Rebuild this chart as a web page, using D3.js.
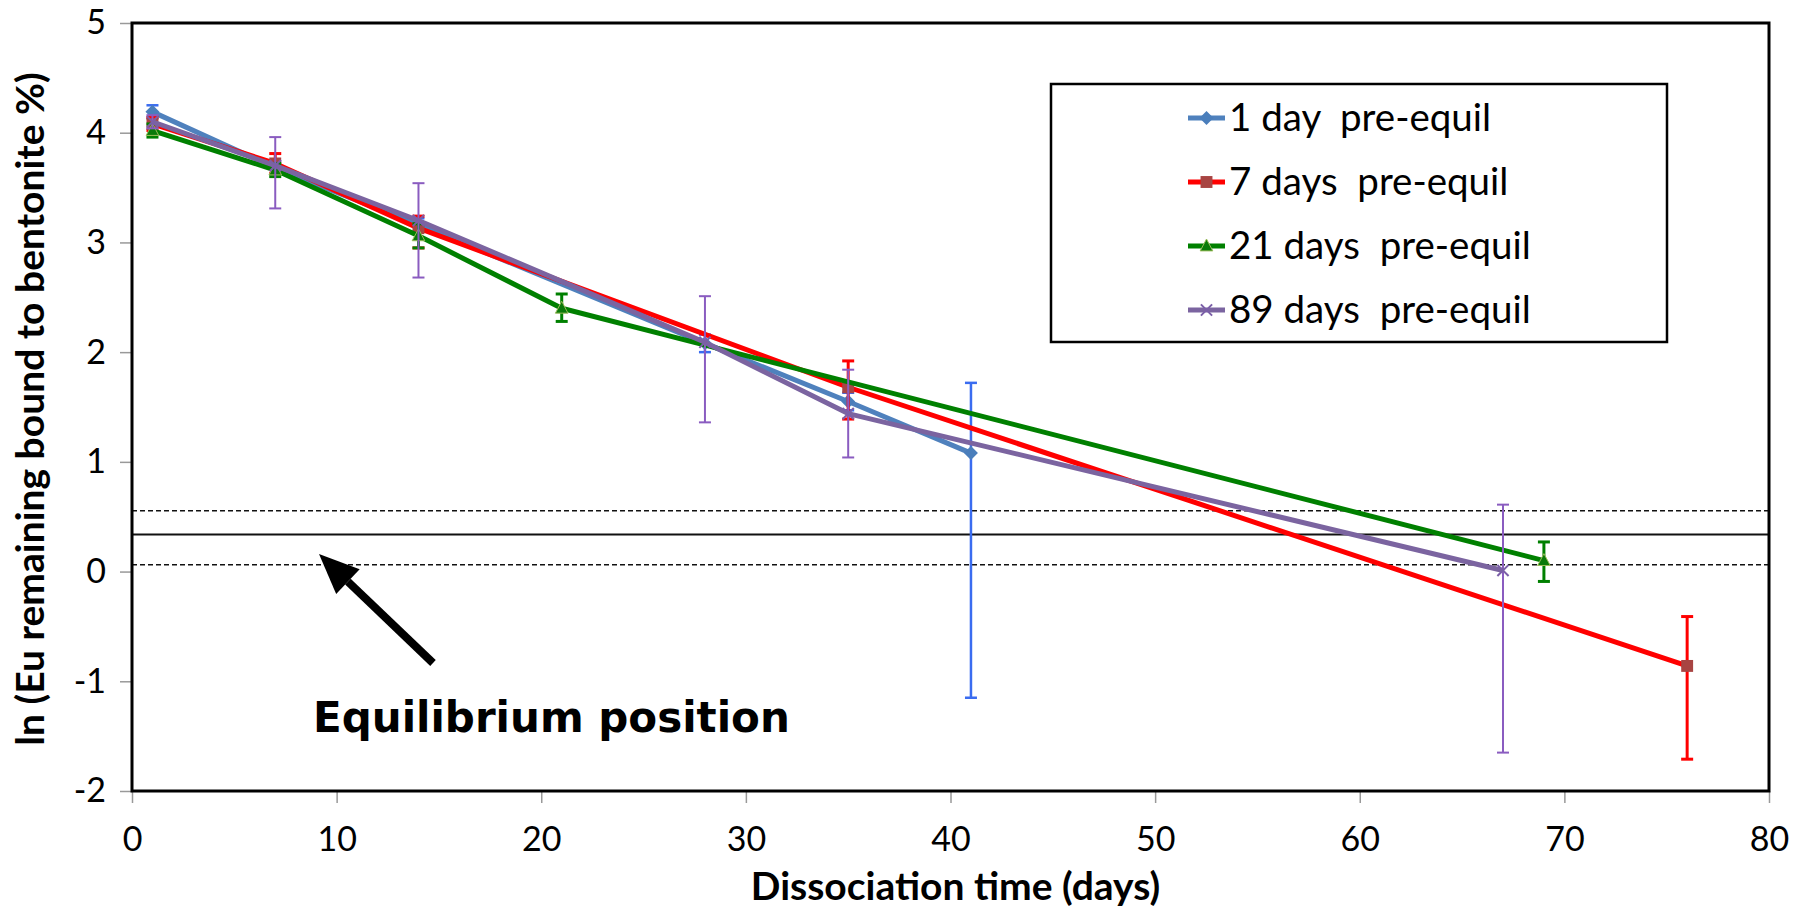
<!DOCTYPE html>
<html><head><meta charset="utf-8">
<script src="https://cdn.jsdelivr.net/npm/d3@7"></script>
<style>body{margin:0;background:#fff}svg{display:block}</style>
</head><body>
<svg id="chart" width="1807" height="915"></svg>
<script>
// ---- data ----
const seriesNames = ["1 day  pre-equil", "7 days  pre-equil", "21 days  pre-equil", "89 days  pre-equil"];
const days1  = [1, 7, 14, 28, 35, 41];
const ln1    = [4.19, 3.68, 3.16, 2.08, 1.55, 1.08];
const lo1    = [4.13, 3.62, 3.10, 2.00, 1.47, -1.15];
const hi1    = [4.25, 3.74, 3.22, 2.16, 1.63, 1.72];
const days7  = [1, 7, 14, 35, 76];
const ln7    = [4.08, 3.72, 3.13, 1.68, -0.86];
const lo7    = [4.02, 3.63, 2.95, 1.39, -1.71];
const hi7    = [4.14, 3.81, 3.24, 1.92, -0.41];
const days21 = [1, 7, 14, 21, 69];
const ln21   = [4.02, 3.66, 3.06, 2.40, 0.10];
const lo21   = [3.96, 3.60, 2.95, 2.28, -0.09];
const hi21   = [4.08, 3.72, 3.17, 2.53, 0.27];
const days89 = [1, 7, 14, 28, 35, 67];
const ln89   = [4.10, 3.70, 3.20, 2.09, 1.44, 0.01];
const lo89   = [4.04, 3.31, 2.68, 1.36, 1.04, -1.65];
const hi89   = [4.16, 3.96, 3.54, 2.51, 1.84, 0.61];
const xTicks = [0, 10, 20, 30, 40, 50, 60, 70, 80];
const yTicks = [-2, -1, 0, 1, 2, 3, 4, 5];
const equilMean = 0.339, equilUpper = 0.554, equilLower = 0.062;
const xTitle = "Dissociation time (days)";
const yTitle = "ln (Eu remaining bound to bentonite %)";
const annotation = "Equilibrium position";

// ---- layout ----
const L = 132, T = 23, R = 1769, B = 791;
const svg = d3.select("#chart");
const x = d3.scaleLinear().domain([0, 80]).range([L, R]);
const y = d3.scaleLinear().domain([-2, 5]).range([B, T]);
const FONT = "Lato, 'Liberation Sans', sans-serif";

const series = [
  {name: seriesNames[0], d: days1, v: ln1, lo: lo1, hi: hi1, line: "#4F81BD", mk: "#4A7EBB", err: "#3A6CF0", ew: 2.5, marker: "diamond"},
  {name: seriesNames[1], d: days7, v: ln7, lo: lo7, hi: hi7, line: "#FF0000", mk: "#A84442", err: "#FF0000", ew: 3, marker: "square"},
  {name: seriesNames[2], d: days21, v: ln21, lo: lo21, hi: hi21, line: "#008000", mk: "#0A7A0A", err: "#008000", ew: 3, marker: "triangle"},
  {name: seriesNames[3], d: days89, v: ln89, lo: lo89, hi: hi89, line: "#7B64A0", mk: "#7B5FA8", err: "#8A5CC0", ew: 2, marker: "x"}
];

// axes ticks
const fmt = d => String(d);
const yAxis = d3.axisLeft(y).tickValues(yTicks).tickSize(12).tickPadding(14).tickFormat(fmt);
const xAxis = d3.axisBottom(x).tickValues(xTicks).tickSize(12).tickPadding(24).tickFormat(fmt);
const gy = svg.append("g").attr("transform", `translate(${L},0)`).call(yAxis);
const gx = svg.append("g").attr("transform", `translate(0,${B})`).call(xAxis);
[gx, gy].forEach(g => {
  g.select(".domain").remove();
  g.selectAll(".tick line").attr("stroke", "#999").attr("stroke-width", 1.5);
  g.selectAll(".tick text").attr("font-family", FONT).attr("font-size", 34).attr("fill", "#000");
});

// equilibrium lines
svg.append("line").attr("x1", L).attr("x2", R).attr("y1", y(equilMean)).attr("y2", y(equilMean))
  .attr("stroke", "#111").attr("stroke-width", 2);
[equilUpper, equilLower].forEach(v => {
  svg.append("line").attr("x1", L).attr("x2", R).attr("y1", y(v)).attr("y2", y(v))
    .attr("stroke", "#111").attr("stroke-width", 1.6).attr("stroke-dasharray", "5,3");
});

function drawMarker(g, type, cx, cy, color, s) {
  if (type === "diamond") {
    g.append("path").attr("d", `M${cx},${cy-s}L${cx+s},${cy}L${cx},${cy+s}L${cx-s},${cy}Z`).attr("fill", color);
  } else if (type === "square") {
    g.append("rect").attr("x", cx - s*0.85).attr("y", cy - s*0.85).attr("width", s*1.7).attr("height", s*1.7).attr("fill", color);
  } else if (type === "triangle") {
    g.append("path").attr("d", `M${cx},${cy-s}L${cx+s*0.9},${cy+s*0.7}L${cx-s*0.9},${cy+s*0.7}Z`)
      .attr("fill", color).attr("stroke", "#9BBB59").attr("stroke-width", 1);
  } else {
    const k = s*0.8;
    g.append("path").attr("d", `M${cx-k},${cy-k}L${cx+k},${cy+k}M${cx-k},${cy+k}L${cx+k},${cy-k}`)
      .attr("stroke", color).attr("stroke-width", 2).attr("fill", "none");
  }
}

const lineGen = d3.line().x(p => x(p[0])).y(p => y(p[1]));
series.forEach(s => {
  const g = svg.append("g");
  const pts = s.d.map((d, i) => [d, s.v[i]]);
  // error bars
  s.d.forEach((d, i) => {
    const cx = x(d);
    g.append("line").attr("x1", cx).attr("x2", cx).attr("y1", y(s.lo[i])).attr("y2", y(s.hi[i]))
      .attr("stroke", s.err).attr("stroke-width", s.ew);
    [s.lo[i], s.hi[i]].forEach(v => {
      g.append("line").attr("x1", cx - 6).attr("x2", cx + 6).attr("y1", y(v)).attr("y2", y(v))
        .attr("stroke", s.err).attr("stroke-width", s.ew);
    });
  });
  g.append("path").attr("d", lineGen(pts)).attr("fill", "none").attr("stroke", s.line)
    .attr("stroke-width", 5).attr("stroke-linejoin", "round");
  pts.forEach(p => drawMarker(g, s.marker, x(p[0]), y(p[1]), s.mk, 7));
});

// plot frame
svg.append("rect").attr("x", L).attr("y", T).attr("width", R - L).attr("height", B - T)
  .attr("fill", "none").attr("stroke", "#000").attr("stroke-width", 3);

// legend
const lg = svg.append("g");
lg.append("rect").attr("x", 1051).attr("y", 84).attr("width", 616).attr("height", 258)
  .attr("fill", "#fff").attr("stroke", "#000").attr("stroke-width", 2.5);
series.forEach((s, i) => {
  const cy = 118 + i * 64;
  lg.append("line").attr("x1", 1188).attr("x2", 1225).attr("y1", cy).attr("y2", cy)
    .attr("stroke", s.line).attr("stroke-width", 5);
  drawMarker(lg, s.marker, 1206.5, cy, s.mk, 7);
  lg.append("text").attr("x", 1229).attr("y", cy + 13).attr("font-family", FONT).attr("font-size", 38.5)
    .attr("fill", "#000").attr("xml:space", "preserve").style("white-space", "pre").text(s.name);
});

// axis titles
svg.append("text").attr("x", (L + R) / 2 + 5).attr("y", 900).attr("text-anchor", "middle")
  .attr("font-family", FONT).attr("font-weight", "bold").attr("font-size", 39).text(xTitle);
svg.append("text").attr("transform", `translate(44,${(T + B) / 2 + 2}) rotate(-90)`).attr("text-anchor", "middle")
  .attr("font-family", FONT).attr("font-weight", "bold").attr("font-size", 39).text(yTitle);

// annotation arrow
const tail = [433, 663], tip = [319, 554];
const ang = Math.atan2(tip[1] - tail[1], tip[0] - tail[0]);
const hl = 40, hw = 17;
const bx = tip[0] - hl * Math.cos(ang), by = tip[1] - hl * Math.sin(ang);
svg.append("line").attr("x1", tail[0]).attr("y1", tail[1]).attr("x2", bx).attr("y2", by)
  .attr("stroke", "#000").attr("stroke-width", 8);
svg.append("path").attr("d", `M${tip[0]},${tip[1]}L${bx + hw*Math.sin(ang)},${by - hw*Math.cos(ang)}L${bx - hw*Math.sin(ang)},${by + hw*Math.cos(ang)}Z`)
  .attr("fill", "#000");
svg.append("text").attr("x", 313).attr("y", 732).attr("font-family", "'DejaVu Sans', Verdana, sans-serif")
  .attr("font-weight", "bold").attr("font-size", 42).text(annotation);
</script>
</body></html>
